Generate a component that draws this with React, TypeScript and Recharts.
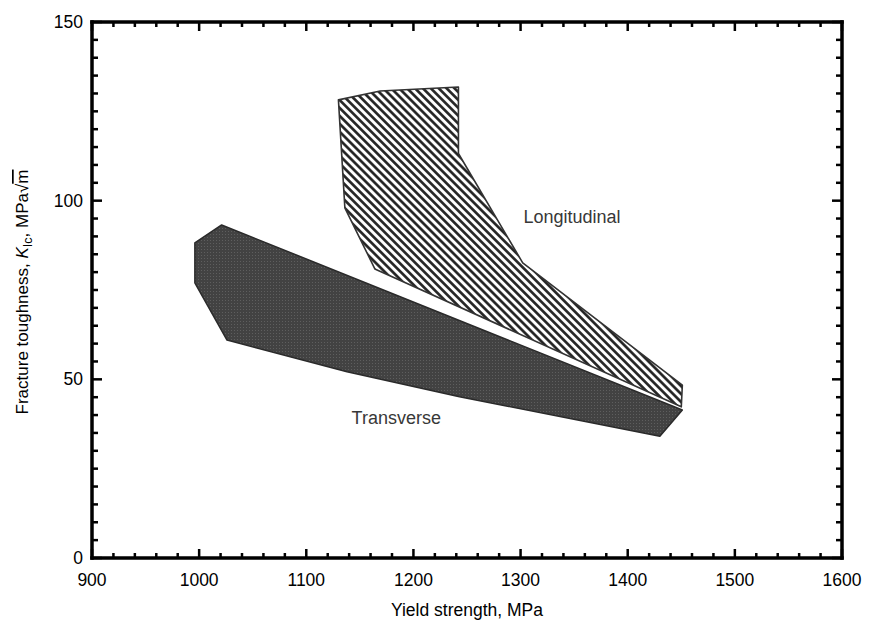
import React from 'react';
import { ScatterChart, Scatter, XAxis, YAxis } from 'recharts';

// Yield strength (MPa) / fracture toughness (MPa·√m) outlines of the two scatter bands
const longitudinalBand = [
  { x: 1130, y: 128.2 },
  { x: 1169, y: 130.7 },
  { x: 1242, y: 131.8 },
  { x: 1242, y: 113.2 },
  { x: 1302, y: 82.6 },
  { x: 1451, y: 48.4 },
  { x: 1450, y: 42.3 },
  { x: 1164, y: 80.9 },
  { x: 1136, y: 98.0 },
];

const transverseBand = [
  { x: 1021, y: 93.2 },
  { x: 996, y: 88.2 },
  { x: 996, y: 77.0 },
  { x: 1026, y: 61.0 },
  { x: 1138, y: 52.1 },
  { x: 1243, y: 45.1 },
  { x: 1430, y: 34.1 },
  { x: 1451, y: 41.4 },
];

const bandLabels = [
  { x: 1348, y: 95.4, name: 'Longitudinal' },
  { x: 1184, y: 39.2, name: 'Transverse' },
];

// frame corners, used to tie the mirrored top / right axes to the plot
const frameCorners = [
  { x: 900, y: 0 },
  { x: 1600, y: 150 },
];

const xMajor = [900, 1000, 1100, 1200, 1300, 1400, 1500, 1600];
const yMajor = [0, 50, 100, 150];
const xTicks = Array.from({ length: 36 }, (_, i) => 900 + i * 20);
const yTicks = Array.from({ length: 31 }, (_, i) => i * 5);

const FONT = '"Liberation Sans", Arial, Helvetica, sans-serif';
const TICK_W = 2.5;
const LABEL_SIZE = 17.5;

const BottomTick = (props: any) => {
  const { x, y, payload } = props;
  const major = xMajor.includes(payload.value);
  return (
    <g>
      <line x1={x} x2={x} y1={y} y2={y - (major ? 9 : 5)} stroke="#000" strokeWidth={TICK_W} />
      {major && (
        <text x={x} y={y + 28} textAnchor="middle" fontSize={LABEL_SIZE} fontFamily={FONT} fill="#000">
          {payload.value}
        </text>
      )}
    </g>
  );
};

const TopTick = (props: any) => {
  const { x, y, payload } = props;
  const major = xMajor.includes(payload.value);
  return <line x1={x} x2={x} y1={y} y2={y + (major ? 9 : 5)} stroke="#000" strokeWidth={TICK_W} />;
};

const LeftTick = (props: any) => {
  const { x, y, payload } = props;
  const major = yMajor.includes(payload.value);
  return (
    <g>
      <line x1={x} x2={x + (major ? 10 : 6)} y1={y} y2={y} stroke="#000" strokeWidth={TICK_W} />
      {major && (
        <text x={x - 9} y={y + 6} textAnchor="end" fontSize={LABEL_SIZE} fontFamily={FONT} fill="#000">
          {payload.value}
        </text>
      )}
    </g>
  );
};

const RightTick = (props: any) => {
  const { x, y, payload } = props;
  const major = yMajor.includes(payload.value);
  return <line x1={x} x2={x - (major ? 10 : 6)} y1={y} y2={y} stroke="#000" strokeWidth={TICK_W} />;
};

const XTitle = (props: any) => {
  const vb = props.viewBox || {};
  return (
    <text
      x={vb.x + vb.width / 2}
      y={vb.y + 58}
      textAnchor="middle"
      fontSize={LABEL_SIZE}
      fontFamily={FONT}
      fill="#000"
    >
      Yield strength, MPa
    </text>
  );
};

const YTitle = (props: any) => {
  const vb = props.viewBox || {};
  const cx = vb.x + 20;
  const cy = vb.y + vb.height / 2 + 2;
  return (
    <text
      x={cx}
      y={cy}
      transform={`rotate(-90 ${cx} ${cy})`}
      textAnchor="middle"
      fontSize={17}
      fontFamily={FONT}
      fill="#000"
    >
      Fracture toughness, <tspan fontStyle="italic">K</tspan>
      <tspan fontSize={12.5} dy={4}>Ic</tspan>
      <tspan dy={-4}>, MPa</tspan>
      <tspan>√</tspan>
      <tspan textDecoration="overline">m</tspan>
    </text>
  );
};

const hidden = () => <g />;

const transverseOutline = (props: any) => {
  const pts = (props.points || []).map((p: any) => `${p.x},${p.y}`).join(' ');
  return (
    <g>
      <defs>
        <pattern id="stipple" width="3" height="3" patternUnits="userSpaceOnUse">
          <rect width="3" height="3" fill="#424242" />
          <rect x="1" y="1" width="1" height="1" fill="#5e5e5e" />
        </pattern>
      </defs>
      <polygon points={pts} fill="url(#stipple)" stroke="#2a2a2a" strokeWidth={1.5} strokeLinejoin="round" />
    </g>
  );
};

const longitudinalOutline = (props: any) => {
  const pts = (props.points || []).map((p: any) => `${p.x},${p.y}`).join(' ');
  return (
    <g>
      <defs>
        <pattern id="hatch" width="5.6" height="5.6" patternUnits="userSpaceOnUse" patternTransform="rotate(-45)">
          <rect width="5.6" height="5.6" fill="#fff" />
          <line x1="1.4" y1="0" x2="1.4" y2="5.6" stroke="#1e1e1e" strokeWidth={2.6} />
        </pattern>
      </defs>
      <polygon points={pts} fill="url(#hatch)" stroke="#333" strokeWidth={1.6} strokeLinejoin="round" />
    </g>
  );
};

const BandLabel = (props: any) => {
  const { cx, cy, payload } = props;
  return (
    <text x={cx} y={cy} textAnchor="middle" dominantBaseline="central" fontSize={18} fontFamily={FONT} fill="#383838">
      {payload.name}
    </text>
  );
};

const axisLine = { stroke: '#000', strokeWidth: 3.5, strokeLinecap: 'square' as const };

export default function App() {
  return (
    <div style={{ width: 864, height: 618 }}>
      <ScatterChart width={864} height={618} margin={{ top: 13, right: 29, bottom: 0, left: 0 }}>
        <XAxis
          xAxisId="b"
          dataKey="x"
          type="number"
          orientation="bottom"
          domain={[900, 1600]}
          ticks={xTicks}
          interval={0}
          tickSize={0}
          tickMargin={0}
          tickLine={false}
          tick={BottomTick}
          axisLine={axisLine}
          height={68}
          label={<XTitle />}
        />
        <XAxis
          xAxisId="t"
          dataKey="x"
          type="number"
          orientation="top"
          domain={[900, 1600]}
          ticks={xTicks}
          interval={0}
          tickSize={0}
          tickMargin={0}
          tickLine={false}
          tick={TopTick}
          axisLine={axisLine}
          height={1}
        />
        <YAxis
          yAxisId="l"
          dataKey="y"
          type="number"
          orientation="left"
          domain={[0, 150]}
          ticks={yTicks}
          interval={0}
          tickSize={0}
          tickMargin={0}
          tickLine={false}
          tick={LeftTick}
          axisLine={axisLine}
          width={84}
          label={<YTitle />}
        />
        <YAxis
          yAxisId="r"
          dataKey="y"
          type="number"
          orientation="right"
          domain={[0, 150]}
          ticks={yTicks}
          interval={0}
          tickSize={0}
          tickMargin={0}
          tickLine={false}
          tick={RightTick}
          axisLine={axisLine}
          width={1}
        />
        <Scatter
          name="frame"
          data={frameCorners}
          xAxisId="t"
          yAxisId="r"
          shape={hidden}
          isAnimationActive={false}
        />
        <Scatter
          name="Transverse"
          data={transverseBand}
          xAxisId="b"
          yAxisId="l"
          line={transverseOutline}
          lineType="joint"
          shape={hidden}
          isAnimationActive={false}
        />
        <Scatter
          name="Longitudinal"
          data={longitudinalBand}
          xAxisId="b"
          yAxisId="l"
          line={longitudinalOutline}
          lineType="joint"
          shape={hidden}
          isAnimationActive={false}
        />
        <Scatter
          name="labels"
          data={bandLabels}
          xAxisId="b"
          yAxisId="l"
          shape={BandLabel}
          isAnimationActive={false}
        />
      </ScatterChart>
    </div>
  );
}
